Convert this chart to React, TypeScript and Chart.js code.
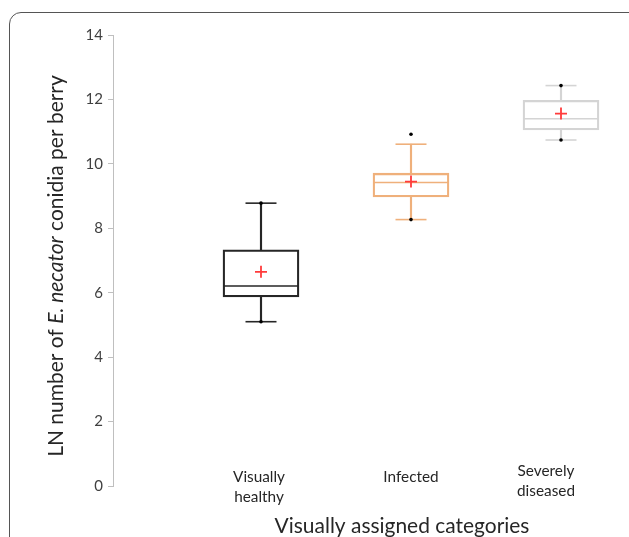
import React, { useEffect, useRef } from 'react';
import { Chart, registerables } from 'chart.js';

Chart.register(...registerables);

// ---- data ----
const categories = ['Visually healthy', 'Infected', 'Severely diseased'];
const categoryLines = [['Visually', 'healthy'], ['Infected'], ['Severely', 'diseased']];
const whiskerLow = [5.10, 8.27, 10.74];
const q1 = [5.87, 8.97, 11.05];
const median = [6.21, 9.42, 11.40];
const q3 = [7.33, 9.71, 11.97];
const whiskerHigh = [8.78, 10.61, 12.43];
const means = [6.65, 9.45, 11.56];
const lowPoints = [5.10, 8.27, 10.74];
const highPoints = [8.78, 10.92, 12.43];
const yTickValues = [0, 2, 4, 6, 8, 10, 12, 14];
const yAxisTitle = [
  { text: 'LN number of ', italic: false },
  { text: 'E. necator', italic: true },
  { text: ' conidia per berry', italic: false },
];
const xAxisTitle = 'Visually assigned categories';

// ---- styles ----
const boxColors = ['#262626', '#EFB07B', '#D4D4D4'];
const meanColor = '#FF3B3B';
const FONT = 'Lato, "Open Sans", sans-serif';
// label placement (center offset in px from category position, first baseline y)
const labelLayout = [
  { dx: -2, baseline: 482 },
  { dx: 0, baseline: 482 },
  { dx: -15, baseline: 476 },
];

const textPlugin = {
  id: 'textPlugin',
  afterDraw(chart: any) {
    const ctx = chart.ctx as CanvasRenderingContext2D;
    const xs = chart.scales.x;
    ctx.save();
    ctx.fillStyle = '#262626';
    // category labels
    ctx.font = `16px ${FONT}`;
    const wV = ctx.measureText('Visually').width;
    const catSize = (16 * 52) / wV;
    ctx.font = `${catSize}px ${FONT}`;
    ctx.textAlign = 'center';
    ctx.textBaseline = 'alphabetic';
    categoryLines.forEach((lines, i) => {
      const cx = xs.getPixelForValue(i + 1) + labelLayout[i].dx;
      lines.forEach((ln, j) => {
        ctx.fillText(ln, cx, labelLayout[i].baseline + j * 19.5);
      });
    });
    // x axis title
    ctx.font = `20px ${FONT}`;
    const wx = ctx.measureText(xAxisTitle).width;
    const xSize = (20 * 255) / wx;
    ctx.font = `${xSize}px ${FONT}`;
    ctx.fillText(xAxisTitle, 402, 533);
    // y axis title (rotated, mixed italic)
    const fontFor = (it: boolean, s: number) => `${it ? 'italic ' : ''}${s}px ${FONT}`;
    const measureAll = (s: number) =>
      yAxisTitle.reduce((acc, p) => {
        ctx.font = fontFor(p.italic, s);
        return acc + ctx.measureText(p.text).width;
      }, 0);
    const base = measureAll(20);
    const ySize = (20 * 382) / base;
    const total = measureAll(ySize);
    ctx.translate(63, 266);
    ctx.rotate(-Math.PI / 2);
    ctx.textAlign = 'left';
    let pos = -total / 2;
    yAxisTitle.forEach((p) => {
      ctx.font = fontFor(p.italic, ySize);
      ctx.fillText(p.text, pos, 0);
      pos += ctx.measureText(p.text).width;
    });
    ctx.restore();
  },
};

export default function App() {
  const ref = useRef<HTMLCanvasElement | null>(null);
  useEffect(() => {
    if (!ref.current) return;
    const xsPos = categories.map((_, i) => i + 1);
    const chart = new Chart(ref.current, {
      type: 'bar',
      data: {
        datasets: [
          {
            type: 'bar',
            label: 'whisker low',
            data: xsPos.map((x, i) => ({ x, y: [whiskerLow[i], q1[i]] })) as any,
            backgroundColor: boxColors,
            borderWidth: 0,
            barThickness: 1.5,
            grouped: false,
            order: 5,
          } as any,
          {
            type: 'bar',
            label: 'whisker high',
            data: xsPos.map((x, i) => ({ x, y: [q3[i], whiskerHigh[i]] })) as any,
            backgroundColor: boxColors,
            borderWidth: 0,
            barThickness: 1.5,
            grouped: false,
            order: 5,
          } as any,
          {
            type: 'bar',
            label: 'box',
            data: xsPos.map((x, i) => ({ x, y: [q1[i], q3[i]] })) as any,
            backgroundColor: 'rgba(255,255,255,0)',
            borderColor: boxColors,
            borderWidth: 1.6,
            borderSkipped: false,
            barThickness: 76,
            grouped: false,
            order: 4,
          } as any,
          {
            type: 'scatter',
            label: 'median',
            data: xsPos.map((x, i) => ({ x, y: median[i] })),
            pointStyle: 'line',
            pointRadius: 37.5,
            pointBorderWidth: 1.6,
            pointBorderColor: boxColors,
            order: 3,
          } as any,
          {
            type: 'scatter',
            label: 'caps',
            data: [
              ...xsPos.map((x, i) => ({ x, y: whiskerLow[i] })),
              ...xsPos.map((x, i) => ({ x, y: whiskerHigh[i] })),
            ],
            pointStyle: 'line',
            pointRadius: 15.5,
            pointBorderWidth: 1.6,
            pointBorderColor: [...boxColors, ...boxColors],
            order: 3,
          } as any,
          {
            type: 'scatter',
            label: 'points',
            data: [
              ...xsPos.map((x, i) => ({ x, y: lowPoints[i] })),
              ...xsPos.map((x, i) => ({ x, y: highPoints[i] })),
            ],
            pointStyle: 'circle',
            pointRadius: 1.8,
            pointBackgroundColor: '#000',
            pointBorderColor: '#000',
            pointBorderWidth: 0,
            order: 2,
          } as any,
          {
            type: 'scatter',
            label: 'mean',
            data: xsPos.map((x, i) => ({ x, y: means[i] })),
            pointStyle: 'cross',
            pointRadius: 6,
            pointBorderWidth: 1.8,
            pointBorderColor: meanColor,
            order: 1,
          } as any,
        ],
      },
      options: {
        responsive: false,
        animation: false,
        devicePixelRatio: 1,
        layout: { autoPadding: false, padding: { left: 0, top: 35, right: 9, bottom: 51 } },
        plugins: { legend: { display: false }, tooltip: { enabled: false } },
        scales: {
          x: {
            type: 'linear',
            display: false,
            offset: false,
            min: 1 - 148 / 150,
            max: 3 + 59 / 150,
          },
          y: {
            type: 'linear',
            min: 0,
            max: 14,
            afterFit: (scale: any) => {
              scale.width = 113;
            },
            afterBuildTicks: (scale: any) => {
              scale.ticks = yTickValues.map((v) => ({ value: v }));
            },
            ticks: {
              color: '#404040',
              font: { family: FONT, size: 15 },
              padding: 5,
            },
            grid: {
              drawOnChartArea: false,
              drawTicks: true,
              tickLength: 5,
              color: '#BFBFBF',
            },
            border: { display: true, color: '#BFBFBF', width: 1 },
          },
        },
      },
      plugins: [textPlugin],
    } as any);
    return () => chart.destroy();
  }, []);

  return (
    <>
      <div
        style={{
          position: 'fixed',
          left: 9,
          top: 12,
          width: 640,
          height: 620,
          border: '1.2px solid #555',
          borderRadius: 12,
          boxSizing: 'border-box',
        }}
      />
      <canvas
        ref={ref}
        width={629}
        height={537}
        style={{ position: 'fixed', left: 0, top: 0, width: 629, height: 537 }}
      />
    </>
  );
}
